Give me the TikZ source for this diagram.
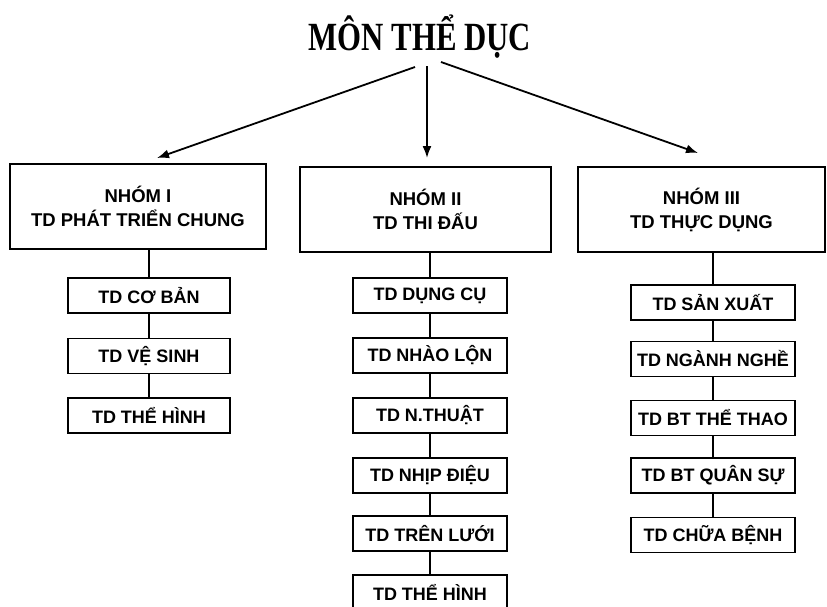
\documentclass[tikz,border=0pt]{standalone}
\usepackage{fontspec}
\setmainfont{Liberation Serif}
\newfontfamily\titlefont[FakeStretch=0.77]{Liberation Serif}
\newfontfamily\boxfont{Liberation Sans}
\usetikzlibrary{arrows.meta}
\tikzset{
  groupbox/.style={draw, line width=1.4pt, minimum height=85pt, align=center,
    font=\boxfont\bfseries\fontsize{18.5}{24}\selectfont},
  subbox/.style={draw, line width=1.3pt, minimum height=35pt, inner sep=2pt,
    font=\boxfont\bfseries\fontsize{18}{20}\selectfont},
  link/.style={line width=1.3pt},
  branch/.style={line width=1.8pt, -{Latex[length=12pt,width=9pt]}}
}
\begin{document}
\begin{tikzpicture}[x=1pt,y=-1pt]
\useasboundingbox (0,0) rectangle (827,606);
% title
\node[anchor=base, inner sep=0pt] (title) at (420,50) {\titlefont\bfseries\fontsize{40}{44}\selectfont MÔN THỂ DỤC};
\coordinate (A1) at (415,67);
\coordinate (A2) at (427,66);
\coordinate (A3) at (441,62);
\coordinate (B1) at (157,158);
\coordinate (B2) at (427,158);
\coordinate (B3) at (698,153);
\draw[branch] (A1) -- (B1);
\draw[branch] (A2) -- (B2);
\draw[branch] (A3) -- (B3);
% groups
\node[groupbox, minimum width=256pt] (g1) at (138,206.5) {NHÓM I\\TD PHÁT TRIỂN CHUNG};
\node[groupbox, minimum width=251pt] (g2) at (425.5,209.5) {NHÓM II\\TD THI ĐẤU};
\node[groupbox, minimum width=247pt] (g3) at (701.5,209.5) {NHÓM III\\TD THỰC DỤNG};
% group I
\node[subbox, minimum width=162pt] (a1) at (149,295.5) {TD CƠ BẢN};
\node[subbox, minimum width=162pt] (a2) at (149,356) {TD VỆ SINH};
\node[subbox, minimum width=162pt] (a3) at (149,415.5) {TD THỂ HÌNH};
\draw[link] (a1.north |- g1.south) -- (a1.north);
\draw[link] (a1) -- (a2);
\draw[link] (a2) -- (a3);
% group II
\node[subbox, minimum width=154pt] (b1) at (430,295.5) {TD DỤNG CỤ};
\node[subbox, minimum width=154pt] (b2) at (430,355.5) {TD NHÀO LỘN};
\node[subbox, minimum width=154pt] (b3) at (430,415.5) {TD N.THUẬT};
\node[subbox, minimum width=154pt] (b4) at (430,475.5) {TD NHỊP ĐIỆU};
\node[subbox, minimum width=154pt] (b5) at (430,533.5) {TD TRÊN LƯỚI};
\node[subbox, minimum width=154pt] (b6) at (430,592.5) {TD THỂ HÌNH};
\draw[link] (b1.north |- g2.south) -- (b1.north);
\draw[link] (b1) -- (b2);
\draw[link] (b2) -- (b3);
\draw[link] (b3) -- (b4);
\draw[link] (b4) -- (b5);
\draw[link] (b5) -- (b6);
% group III
\node[subbox, minimum width=164pt] (c1) at (713,302.5) {TD SẢN XUẤT};
\node[subbox, minimum width=164pt] (c2) at (713,359) {TD NGÀNH NGHỀ};
\node[subbox, minimum width=164pt] (c3) at (713,418) {TD BT THỂ THAO};
\node[subbox, minimum width=164pt] (c4) at (713,475.5) {TD BT QUÂN SỰ};
\node[subbox, minimum width=164pt] (c5) at (713,535) {TD CHỮA BỆNH};
\draw[link] (c1.north |- g3.south) -- (c1.north);
\draw[link] (c1) -- (c2);
\draw[link] (c2) -- (c3);
\draw[link] (c3) -- (c4);
\draw[link] (c4) -- (c5);
\end{tikzpicture}
\end{document}
